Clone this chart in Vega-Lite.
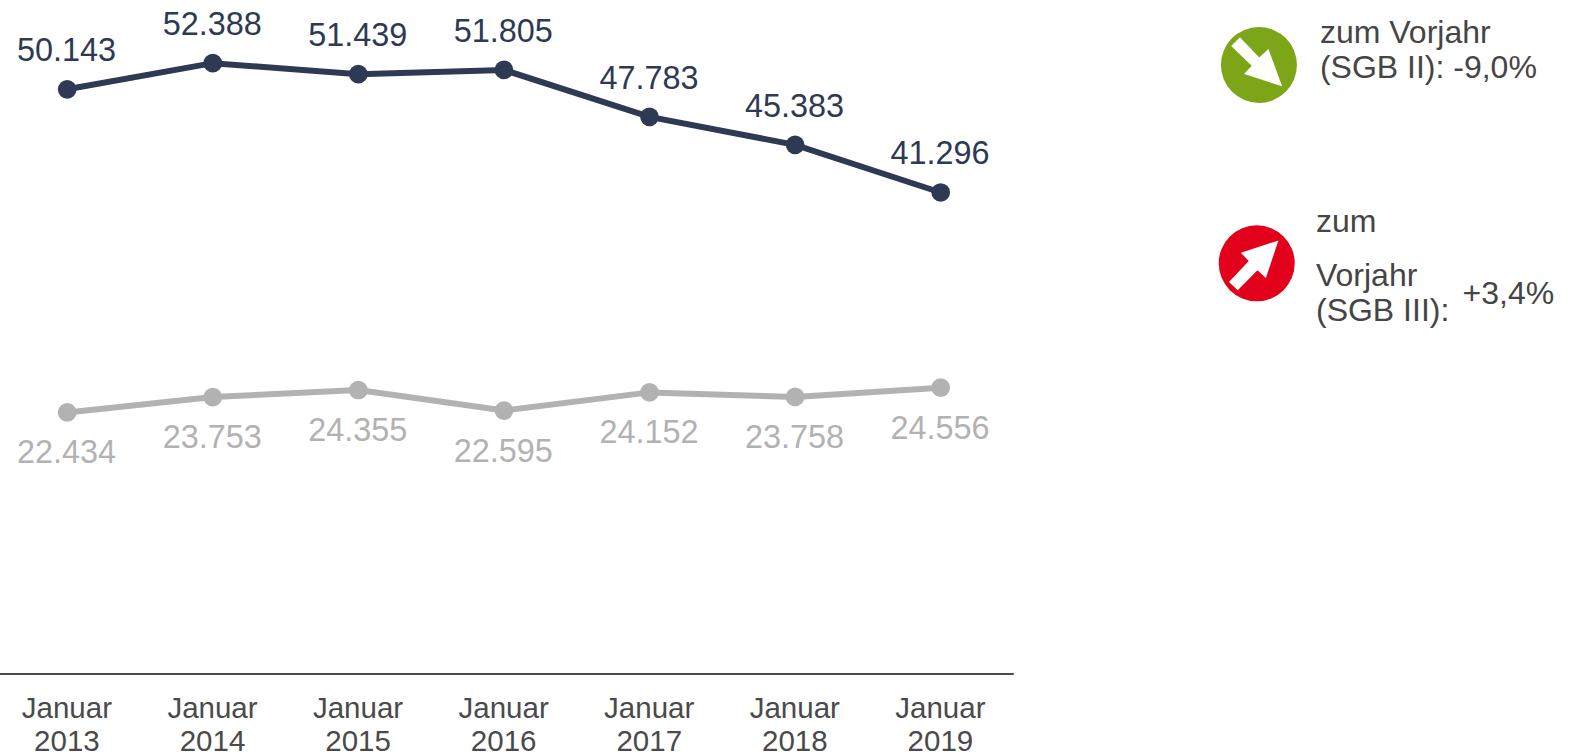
{"$schema":"https://vega.github.io/schema/vega-lite/v6.json","width":1569,"height":756,"padding":0,"autosize":"none","background":"white","config":{"view":{"stroke":null},"font":"Liberation Sans"},
"datasets":{"series":[
{"jahr":2013,"reihe":"SGB II","wert":50143,"label":"50.143"},{"jahr":2014,"reihe":"SGB II","wert":52388,"label":"52.388"},{"jahr":2015,"reihe":"SGB II","wert":51439,"label":"51.439"},{"jahr":2016,"reihe":"SGB II","wert":51805,"label":"51.805"},{"jahr":2017,"reihe":"SGB II","wert":47783,"label":"47.783"},{"jahr":2018,"reihe":"SGB II","wert":45383,"label":"45.383"},{"jahr":2019,"reihe":"SGB II","wert":41296,"label":"41.296"},
{"jahr":2013,"reihe":"SGB III","wert":22434,"label":"22.434"},{"jahr":2014,"reihe":"SGB III","wert":23753,"label":"23.753"},{"jahr":2015,"reihe":"SGB III","wert":24355,"label":"24.355"},{"jahr":2016,"reihe":"SGB III","wert":22595,"label":"22.595"},{"jahr":2017,"reihe":"SGB III","wert":24152,"label":"24.152"},{"jahr":2018,"reihe":"SGB III","wert":23758,"label":"23.758"},{"jahr":2019,"reihe":"SGB III","wert":24556,"label":"24.556"}],
"icons":[{"reihe":"SGB II","jahr":2021.186,"wert":52230},{"reihe":"SGB III","jahr":2021.171,"wert":35223}],
"notes":[{"jahr":2021.605,"wert":54117,"text":"zum Vorjahr"},{"jahr":2021.605,"wert":51115,"text":"(SGB II): -9,0%"},{"jahr":2021.578,"wert":37907,"text":"zum"},{"jahr":2021.578,"wert":33270,"text":"Vorjahr"},{"jahr":2021.578,"wert":30280,"text":"(SGB III):"},{"jahr":2022.585,"wert":31730,"text":"+3,4%"}],
"baseline":[{"jahr":2012.5384,"bis":2019.502,"wert":0}]},
"encoding":{
"x":{"field":"jahr","type":"quantitative","scale":{"domain":[2012.5384,2023.316],"nice":false,"zero":false},"axis":{"values":[2013,2014,2015,2016,2017,2018,2019],"orient":"bottom","offset":-82,"domain":false,"ticks":false,"grid":false,"title":null,"format":"d","labelExpr":"['Januar', datum.label]","labelFont":"Liberation Sans","labelFontSize":29.5,"labelColor":"#4a4a4a","labelLineHeight":33,"labelPadding":20,"labelOffset":-0.8,"labelOverlap":false,"labelFlush":false,"labelBaseline":"top"}},
"y":{"field":"wert","type":"quantitative","scale":{"domain":[-7033,57804],"nice":false,"zero":false},"axis":null}},
"layer":[
{"data":{"name":"baseline"},"mark":{"type":"rule","color":"#4a4a4a","strokeWidth":2},"encoding":{"x2":{"field":"bis"}}},
{"data":{"name":"series"},"mark":{"type":"line","strokeWidth":6},"encoding":{
"color":{"field":"reihe","type":"nominal","scale":{"domain":["SGB II","SGB III"],"range":["#2e3a53","#b2b2b2"]},"legend":null}}},
{"data":{"name":"series"},"mark":{"type":"circle","size":350,"opacity":1},"encoding":{"color":{"field":"reihe","type":"nominal","legend":null}}},
{"data":{"name":"series"},"transform":[{"filter":"datum.reihe==='SGB II'"}],"mark":{"type":"text","fontSize":32.4,"dy":-38,"dx":-0.6,"baseline":"middle","font":"Liberation Sans"},"encoding":{"text":{"field":"label"},"color":{"field":"reihe","type":"nominal","legend":null}}},
{"data":{"name":"series"},"transform":[{"filter":"datum.reihe==='SGB III'"}],"mark":{"type":"text","fontSize":32.4,"dy":41,"dx":-0.6,"baseline":"middle","font":"Liberation Sans"},"encoding":{"text":{"field":"label"},"color":{"field":"reihe","type":"nominal","legend":null}}},
{"data":{"name":"icons"},"transform":[{"filter":"datum.reihe==='SGB II'"}],"mark":{"type":"circle","size":5776,"opacity":1,"color":"#7ca617"}},
{"data":{"name":"icons"},"transform":[{"filter":"datum.reihe==='SGB III'"}],"mark":{"type":"circle","size":5776,"opacity":1,"color":"#e2001a"}},
{"data":{"name":"icons"},"transform":[{"filter":"datum.reihe==='SGB II'"}],"mark":{"type":"point","filled":true,"opacity":1,"color":"white","size":5776,"shape":"M-0.5 -0.73L0.01 -0.2L0.25 -0.42L0.61 0.56L-0.39 0.24L-0.19 0.02L-0.73 -0.5Z"}},
{"data":{"name":"icons"},"transform":[{"filter":"datum.reihe==='SGB III'"}],"mark":{"type":"point","filled":true,"opacity":1,"color":"white","size":5776,"shape":"M0.57 -0.6L-0.42 -0.28L-0.21 -0.06L-0.73 0.49L-0.5 0.71L0.02 0.18L0.24 0.39Z"}},
{"data":{"name":"notes"},"mark":{"type":"text","fontSize":32,"align":"left","baseline":"alphabetic","color":"#454545","font":"Liberation Sans"},"encoding":{"text":{"field":"text"}}}
]}
